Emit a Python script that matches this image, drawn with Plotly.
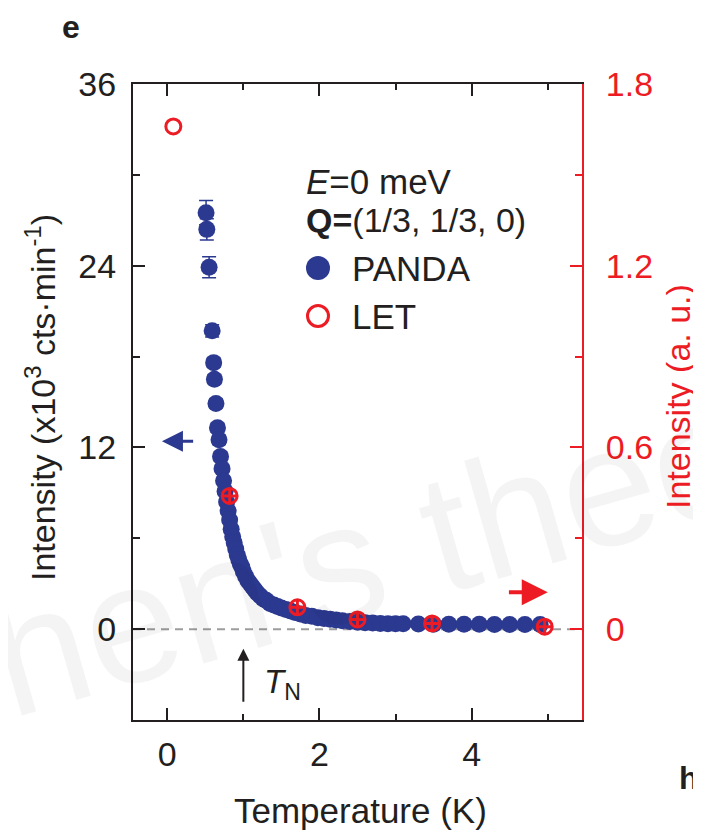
import plotly.graph_objects as go

# ---------------- data ----------------
panda_T = [0.51, 0.52, 0.55, 0.59, 0.61, 0.62, 0.64, 0.66, 0.68, 0.70,
           0.72, 0.74, 0.76, 0.78, 0.80, 0.82, 0.84, 0.86, 0.88, 0.90,
           0.92, 0.94, 0.96, 0.98, 1.00, 1.03, 1.06, 1.09, 1.12, 1.15,
           1.18, 1.22, 1.26, 1.30, 1.35, 1.40, 1.45, 1.50, 1.56, 1.62,
           1.68, 1.75, 1.82, 1.90, 1.98, 2.06, 2.14, 2.22, 2.30, 2.40,
           2.50, 2.60, 2.70, 2.80, 2.90, 3.00, 3.10, 3.30, 3.50, 3.70,
           3.90, 4.10, 4.30, 4.50, 4.70, 4.90]
panda_I = [27.5, 26.4, 23.9, 19.7, 17.6, 16.5, 14.9, 13.3, 12.5, 11.4,
           10.6, 9.8, 9.1, 8.4, 7.8, 7.2, 6.6, 6.1, 5.7, 5.3,
           4.9, 4.6, 4.3, 4.1, 3.8, 3.5, 3.2, 3.0, 2.8, 2.6,
           2.4, 2.2, 2.0, 1.9, 1.7, 1.6, 1.5, 1.4, 1.3, 1.2,
           1.1, 1.0, 0.9, 0.85, 0.75, 0.7, 0.65, 0.6, 0.55, 0.5,
           0.45, 0.42, 0.4, 0.38, 0.36, 0.35, 0.35, 0.34, 0.33, 0.33,
           0.32, 0.32, 0.31, 0.31, 0.30, 0.30]
panda_err = [0.8, 0.7, 0.7, 0.4, 0.3, 0.3, 0.3, 0.3, 0.3, 0.3,
             0.2, 0.2, 0.2, 0.2, 0.2, 0.2, 0.2, 0.2, 0.2, 0.2,
             0.2, 0.2, 0.2, 0.2, 0.2, 0.2, 0.2, 0.2, 0.2, 0.2,
             0.2, 0.2, 0.2, 0.2, 0.2, 0.2, 0.2, 0.2, 0.2, 0.2,
             0.2, 0.2, 0.2, 0.2, 0.2, 0.2, 0.2, 0.2, 0.2, 0.2,
             0.2, 0.2, 0.2, 0.2, 0.2, 0.2, 0.2, 0.2, 0.2, 0.2,
             0.2, 0.2, 0.2, 0.2, 0.2, 0.2]

let_T = [0.08, 0.82, 1.71, 2.50, 3.48, 4.96]
let_I = [1.66, 0.44, 0.072, 0.032, 0.019, 0.008]
let_symbols = ["circle-open", "circle-cross-open", "circle-cross-open",
               "circle-cross-open", "circle-cross-open", "circle-cross-open"]

x_ticks = [0, 2, 4]
left_ticks = [0, 12, 24, 36]
right_ticks = [0, 0.6, 1.2, 1.8]
right_ticktext = ["0", "0.6", "1.2", "1.8"]

# ---------------- style ----------------
NAVY = "#2b3990"
RED = "#ed1c24"
INK = "#231f20"
FONT = "Liberation Sans, Arial, Helvetica, sans-serif"

fig = go.Figure()

fig.add_trace(go.Scatter(
    x=panda_T, y=panda_I, mode="markers", name="PANDA",
    marker=dict(color=NAVY, size=17, line=dict(width=0)),
    error_y=dict(type="data", array=panda_err, color=NAVY, thickness=1.5, width=7),
    showlegend=False, yaxis="y"))

fig.add_trace(go.Scatter(
    x=let_T, y=let_I, mode="markers", name="LET",
    marker=dict(symbol=let_symbols, size=15, color=RED,
                line=dict(color=RED, width=3)),
    showlegend=False, yaxis="y2"))

# page has an 8px body margin: compensate so the plot area lands at
# reference pixels x 133..582, y 84..720
OFF = 8
REF_L, REF_R, REF_T, REF_B = 133, 582, 84, 720
W, H = 701 - OFF, 837 - OFF
L = REF_L - OFF
T = REF_T - OFF
R = W - (REF_R - OFF)
B = H - (REF_B - OFF)
PW, PH = REF_R - REF_L, REF_B - REF_T


def px(xp):
    return (xp - REF_L) / PW


def py(yp):
    return (REF_B - yp) / PH


shapes = [
    dict(type="line", xref="paper", x0=0, x1=1, yref="y", y0=0, y1=0,
         line=dict(color="#9d9d9d", width=2, dash="8px,6px"), layer="below"),
    # legend markers
    dict(type="circle", xref="paper", yref="paper",
         x0=px(318 - 12), x1=px(318 + 12), y0=py(268 + 12), y1=py(268 - 12),
         fillcolor=NAVY, line=dict(width=0)),
    dict(type="circle", xref="paper", yref="paper",
         x0=px(318 - 10.5), x1=px(318 + 10.5), y0=py(316 + 10.5), y1=py(316 - 10.5),
         fillcolor="rgba(0,0,0,0)", line=dict(color=RED, width=3)),
]

annotations = [
    # watermark
    dict(text="Chen's theory", xref="paper", yref="paper", x=px(378), y=py(790),
         showarrow=False, textangle=-16,
         font=dict(family=FONT, size=170, color="rgba(0,0,0,0.045)")),
    # legend texts
    dict(text="<i>E</i>=0 meV", xref="paper", yref="paper", x=px(304), y=py(182),
         xanchor="left", yanchor="middle", showarrow=False,
         font=dict(family=FONT, size=35, color=INK)),
    dict(text="<b>Q=</b>(1/3, 1/3, 0)", xref="paper", yref="paper", x=px(304), y=py(220),
         xanchor="left", yanchor="middle", showarrow=False,
         font=dict(family=FONT, size=34, color=INK)),
    dict(text="PANDA", xref="paper", yref="paper", x=px(350), y=py(268),
         xanchor="left", yanchor="middle", showarrow=False,
         font=dict(family=FONT, size=35, color=INK)),
    dict(text="LET", xref="paper", yref="paper", x=px(350), y=py(316),
         xanchor="left", yanchor="middle", showarrow=False,
         font=dict(family=FONT, size=35, color=INK)),
    # arrows
    dict(x=-0.07, y=12.4, ax=0.36, ay=12.4, xref="x", yref="y", axref="x", ayref="y",
         text="", showarrow=True, arrowhead=2, arrowsize=1.4, arrowwidth=3,
         arrowcolor=NAVY),
    dict(x=5.0, y=2.44, ax=4.47, ay=2.44, xref="x", yref="y", axref="x", ayref="y",
         text="", showarrow=True, arrowhead=2, arrowsize=1.3, arrowwidth=4,
         arrowcolor=RED),
    dict(x=1.0, y=-1.3, ax=1.0, ay=-4.9, xref="x", yref="y", axref="x", ayref="y",
         text="", showarrow=True, arrowhead=2, arrowsize=1.2, arrowwidth=2,
         arrowcolor=INK),
    dict(text="<i>T</i><sub>N</sub>", x=1.25, y=-3.6, xref="x", yref="y",
         xanchor="left", yanchor="middle", showarrow=False,
         font=dict(family=FONT, size=33, color=INK)),
    # axis titles
    dict(text="Temperature (K)", xref="paper", yref="paper", x=px(360), y=py(810),
         xanchor="center", yanchor="middle", showarrow=False,
         font=dict(family=FONT, size=35, color=INK)),
    dict(text="Intensity (x10<sup>3</sup> cts·min<sup>-1</sup>)", xref="paper", yref="paper",
         x=px(40), y=py(398), xanchor="center", yanchor="middle", textangle=-90,
         showarrow=False, font=dict(family=FONT, size=34, color=INK)),
    dict(text="Intensity (a. u.)", xref="paper", yref="paper",
         x=px(678), y=py(397), xanchor="center", yanchor="middle", textangle=-90,
         showarrow=False, font=dict(family=FONT, size=34, color=RED)),
    # panel labels
    dict(text="<b>e</b>", xref="paper", yref="paper", x=px(71), y=py(27),
         xanchor="center", yanchor="middle", showarrow=False,
         font=dict(family=FONT, size=32, color=INK)),
    dict(text="<b>h</b>", xref="paper", yref="paper", x=px(689), y=py(778),
         xanchor="center", yanchor="middle", showarrow=False,
         font=dict(family=FONT, size=32, color=INK)),
]

fig.update_layout(
    width=W, height=H,
    margin=dict(l=L, r=R, t=T, b=B, autoexpand=False),
    paper_bgcolor="white", plot_bgcolor="white",
    font=dict(family=FONT, color=INK),
    shapes=shapes, annotations=annotations,
    xaxis=dict(range=[-0.45, 5.45], tickvals=x_ticks, ticks="inside", ticklen=12,
               tickwidth=2, tickcolor=INK, showline=True, linecolor=INK, linewidth=2,
               mirror="ticks", showgrid=False, zeroline=False,
               tickfont=dict(size=34, color=INK), ticklabelstandoff=3,
               minor=dict(dtick=1, tick0=0, ticks="inside", ticklen=6, tickwidth=2,
                          tickcolor=INK, showgrid=False)),
    yaxis=dict(range=[-6, 36], tickvals=left_ticks, ticks="inside", ticklen=12,
               tickwidth=2, tickcolor=INK, showline=True, linecolor=INK, linewidth=2,
               showgrid=False, zeroline=False, tickfont=dict(size=34, color=INK),
               ticklabelstandoff=8,
               minor=dict(dtick=6, tick0=0, ticks="inside", ticklen=7, tickwidth=2,
                          tickcolor=INK, showgrid=False)),
    yaxis2=dict(range=[-0.3, 1.8], overlaying="y", side="right",
                tickvals=right_ticks, ticktext=right_ticktext, ticks="inside",
                ticklen=12, tickwidth=2, tickcolor=RED, showline=True, linecolor=RED,
                linewidth=2, showgrid=False, zeroline=False,
                tickfont=dict(size=34, color=RED), ticklabelstandoff=15,
                minor=dict(dtick=0.3, tick0=0, ticks="inside", ticklen=7, tickwidth=2,
                           tickcolor=RED, showgrid=False)),
)

fig.write_html("out.html")
